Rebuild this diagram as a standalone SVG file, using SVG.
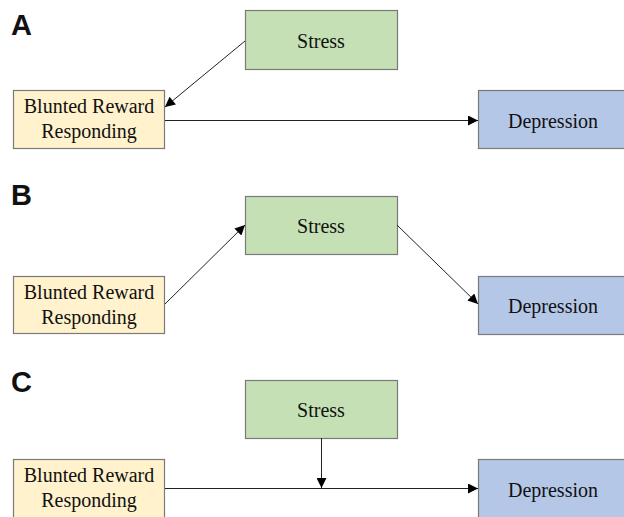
<svg xmlns="http://www.w3.org/2000/svg" width="624" height="517" viewBox="0 0 624 517">
<defs>
<style>
.box{stroke:#7a7a7a;stroke-width:1.2}
.y{fill:#FFF2CC}.g{fill:#C5E0B4}.b{fill:#B4C7E7}
.t{font-family:"Liberation Serif","Times New Roman",serif;font-size:20px;fill:#111;text-anchor:middle}
.lbl{font-family:"Liberation Sans",Arial,sans-serif;font-size:29px;font-weight:bold;fill:#111}
.c{stroke:#222;stroke-width:1;fill:none;marker-end:url(#ah)}
.c2{stroke:#222;stroke-width:1;fill:none}
</style>
<marker id="ah" viewBox="0 0 10 10" refX="10" refY="5" markerWidth="12" markerHeight="10" markerUnits="userSpaceOnUse" orient="auto">
<path d="M0,0 L10,5 L0,10 z" fill="#000"/>
</marker>
</defs>
<text class="lbl" x="11" y="35">A</text>
<text class="lbl" x="11" y="205">B</text>
<text class="lbl" x="11" y="392">C</text>
<g id="A-stress"><rect class="box g" x="245.5" y="10.5" width="152" height="59"/><text class="t" x="321" y="48">Stress</text></g>
<g id="A-blunted"><rect class="box y" x="13.5" y="90.5" width="151" height="58"/><text class="t" x="89" y="113">Blunted Reward</text><text class="t" x="89" y="138">Responding</text></g>
<g id="A-depression"><rect class="box b" x="478.5" y="90.5" width="150" height="58"/><text class="t" x="553" y="128">Depression</text></g>
<g id="B-stress"><rect class="box g" x="245.5" y="196.5" width="152" height="58"/><text class="t" x="321" y="233">Stress</text></g>
<g id="B-blunted"><rect class="box y" x="13.5" y="276.5" width="151" height="57"/><text class="t" x="89" y="299">Blunted Reward</text><text class="t" x="89" y="324">Responding</text></g>
<g id="B-depression"><rect class="box b" x="478.5" y="276.5" width="150" height="58"/><text class="t" x="553" y="313">Depression</text></g>
<g id="C-stress"><rect class="box g" x="245.5" y="380.5" width="152" height="58"/><text class="t" x="321" y="417">Stress</text></g>
<g id="C-blunted"><rect class="box y" x="13.5" y="459.5" width="151" height="62"/><text class="t" x="89" y="482">Blunted Reward</text><text class="t" x="89" y="507">Responding</text></g>
<g id="C-depression"><rect class="box b" x="478.5" y="459.5" width="150" height="62"/><text class="t" x="553" y="497">Depression</text></g>
<g id="connectors">
<line class="c" x1="245" y1="41" x2="165" y2="107"/>
<line class="c" x1="165" y1="120.5" x2="478" y2="120.5"/>
<line class="c" x1="165" y1="304" x2="245" y2="225"/>
<line class="c" x1="397" y1="225" x2="478" y2="304"/>
<line class="c" x1="165" y1="488.5" x2="478" y2="488.5"/>
<line class="c" x1="321.5" y1="438" x2="321.5" y2="488"/>
</g>
</svg>
